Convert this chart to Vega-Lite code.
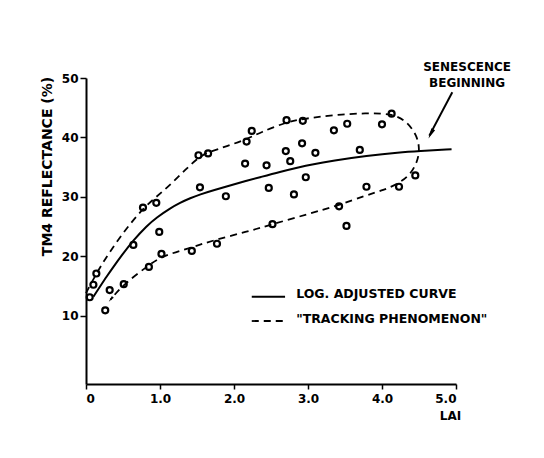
{
  "$schema": "https://vega.github.io/schema/vega-lite/v6.json",
  "width": 370,
  "height": 306,
  "autosize": {"type": "none"},
  "padding": {"left": 86, "top": 78, "right": 88, "bottom": 74},
  "background": "white",
  "config": {
    "view": {"stroke": null},
    "font": "DejaVu Sans",
    "axis": {
      "grid": false,
      "domainColor": "black",
      "domainWidth": 2,
      "tickColor": "black",
      "tickWidth": 1.5,
      "tickSize": 6,
      "labelColor": "black",
      "labelFont": "DejaVu Sans",
      "labelFontWeight": "bold",
      "labelFontSize": 12,
      "titleColor": "black",
      "titleFont": "DejaVu Sans",
      "titleFontWeight": "bold",
      "titleFontSize": 12
    }
  },
  "datasets": {
    "points": [
      {"x": 0.05, "y": 13.1}, {"x": 0.10, "y": 15.2}, {"x": 0.14, "y": 17.1}, {"x": 0.26, "y": 10.9},
      {"x": 0.32, "y": 14.3}, {"x": 0.51, "y": 15.3}, {"x": 0.64, "y": 21.9}, {"x": 0.77, "y": 28.2},
      {"x": 0.85, "y": 18.2}, {"x": 0.95, "y": 29.0}, {"x": 0.99, "y": 24.1}, {"x": 1.02, "y": 20.4},
      {"x": 1.43, "y": 20.9}, {"x": 1.52, "y": 37.0}, {"x": 1.54, "y": 31.6}, {"x": 1.65, "y": 37.3},
      {"x": 1.77, "y": 22.1}, {"x": 1.89, "y": 30.1}, {"x": 2.15, "y": 35.6}, {"x": 2.17, "y": 39.3},
      {"x": 2.24, "y": 41.1}, {"x": 2.44, "y": 35.3}, {"x": 2.47, "y": 31.5}, {"x": 2.52, "y": 25.4},
      {"x": 2.70, "y": 37.7}, {"x": 2.71, "y": 42.9}, {"x": 2.76, "y": 36.0}, {"x": 2.81, "y": 30.4},
      {"x": 2.92, "y": 39.0}, {"x": 2.93, "y": 42.8}, {"x": 2.97, "y": 33.3}, {"x": 3.10, "y": 37.4},
      {"x": 3.35, "y": 41.2}, {"x": 3.42, "y": 28.4}, {"x": 3.52, "y": 25.1}, {"x": 3.53, "y": 42.3},
      {"x": 3.70, "y": 37.9}, {"x": 3.79, "y": 31.7}, {"x": 4.00, "y": 42.2}, {"x": 4.13, "y": 44.0},
      {"x": 4.23, "y": 31.7}, {"x": 4.45, "y": 33.6}
    ],
    "fit": [
      {"x": 0.10, "y": 13.2}, {"x": 0.19, "y": 14.9}, {"x": 0.28, "y": 16.6}, {"x": 0.37, "y": 18.2},
      {"x": 0.48, "y": 20.1}, {"x": 0.64, "y": 22.7}, {"x": 0.82, "y": 25.1}, {"x": 0.95, "y": 26.5},
      {"x": 1.14, "y": 28.1}, {"x": 1.27, "y": 29.0}, {"x": 1.41, "y": 29.8}, {"x": 1.54, "y": 30.4},
      {"x": 1.72, "y": 31.1}, {"x": 2.00, "y": 32.1}, {"x": 2.17, "y": 32.7}, {"x": 2.35, "y": 33.3},
      {"x": 2.62, "y": 34.2}, {"x": 2.89, "y": 35.0}, {"x": 3.03, "y": 35.4}, {"x": 3.34, "y": 36.1},
      {"x": 3.79, "y": 36.9}, {"x": 4.24, "y": 37.5}, {"x": 4.49, "y": 37.7}, {"x": 4.94, "y": 38.0}
    ],
    "tracking": [
      {"i": 1, "x": 0.00, "y": 13.8}, {"i": 2, "x": 0.19, "y": 18.3}, {"i": 3, "x": 0.46, "y": 23.3},
      {"i": 4, "x": 0.77, "y": 28.2}, {"i": 5, "x": 1.09, "y": 31.4}, {"i": 6, "x": 1.36, "y": 34.8},
      {"i": 7, "x": 1.54, "y": 36.8}, {"i": 8, "x": 1.65, "y": 37.5}, {"i": 9, "x": 1.90, "y": 38.5},
      {"i": 10, "x": 2.17, "y": 39.7}, {"i": 11, "x": 2.35, "y": 40.8}, {"i": 12, "x": 2.71, "y": 42.6},
      {"i": 13, "x": 2.93, "y": 43.1}, {"i": 14, "x": 3.34, "y": 43.8}, {"i": 15, "x": 3.79, "y": 44.1},
      {"i": 16, "x": 4.13, "y": 44.0}, {"i": 17, "x": 4.33, "y": 42.8}, {"i": 18, "x": 4.47, "y": 40.4},
      {"i": 19, "x": 4.51, "y": 38.1}, {"i": 20, "x": 4.48, "y": 35.9}, {"i": 21, "x": 4.38, "y": 33.7},
      {"i": 22, "x": 4.23, "y": 32.3}, {"i": 23, "x": 4.02, "y": 31.1}, {"i": 24, "x": 3.79, "y": 30.3},
      {"i": 25, "x": 3.42, "y": 28.6}, {"i": 26, "x": 3.03, "y": 27.2}, {"i": 27, "x": 2.52, "y": 25.4},
      {"i": 28, "x": 2.17, "y": 24.1}, {"i": 29, "x": 1.72, "y": 22.7}, {"i": 30, "x": 1.41, "y": 21.4},
      {"i": 31, "x": 1.02, "y": 20.0}, {"i": 32, "x": 0.85, "y": 18.5}, {"i": 33, "x": 0.51, "y": 15.3},
      {"i": 34, "x": 0.33, "y": 12.7}
    ],
    "legendSolid": [{"x": 2.24, "y": 13.2}, {"x": 2.69, "y": 13.2}],
    "legendDashed": [{"x": 2.24, "y": 9.1}, {"x": 2.69, "y": 9.1}],
    "legendText": [
      {"x": 2.84, "y": 13.6, "label": "LOG. ADJUSTED CURVE"},
      {"x": 2.84, "y": 9.4, "label": "\"TRACKING PHENOMENON\""}
    ],
    "note": [
      {"x": 5.15, "y": 51.85, "label": "SENESCENCE"},
      {"x": 5.15, "y": 49.16, "label": "BEGINNING"}
    ],
    "arrowLine": [{"x": 4.95, "y": 47.6, "x2": 4.64, "y2": 40.3}],
    "arrowHeads": [
      {"x": 4.66, "y": 40.6, "a": 207, "s": 110},
      {"x": 0.335, "y": 12.75, "a": 220, "s": 40}
    ]
  },
  "encoding": {
    "x": {
      "field": "x", "type": "quantitative",
      "scale": {"domain": [0, 5], "nice": false, "zero": false},
      "axis": {
        "values": [0, 1, 2, 3, 4, 5],
        "labelExpr": "datum.value === 0 ? '0' : format(datum.value, '.1f')",
        "labelPadding": 4,
        "tickSize": 5,
        "title": "LAI",
        "titleX": 364,
        "titleY": 31,
        "titleAlign": "center",
        "titleBaseline": "middle",
        "titleFontSize": 12
      }
    },
    "y": {
      "field": "y", "type": "quantitative",
      "scale": {"domain": [-1.5, 50], "nice": false, "zero": false},
      "axis": {
        "values": [10, 20, 30, 40, 50],
        "format": "d",
        "labelPadding": 2,
        "tickSize": 6,
        "title": "TM4 REFLECTANCE (%)",
        "titleX": -39,
        "titleY": 88,
        "titleAngle": -90,
        "titleAlign": "center",
        "titleBaseline": "middle",
        "titleFontSize": 14
      }
    }
  },
  "layer": [
    {
      "data": {"name": "tracking"},
      "mark": {"type": "line", "color": "black", "strokeWidth": 1.8, "strokeDash": [7, 5], "interpolate": "basis"},
      "encoding": {"order": {"field": "i", "type": "quantitative"}}
    },
    {
      "data": {"name": "fit"},
      "mark": {"type": "line", "color": "black", "strokeWidth": 2, "interpolate": "basis"},
      "encoding": {}
    },
    {
      "data": {"name": "points"},
      "mark": {"type": "point", "shape": "circle", "filled": false, "color": "black", "size": 36, "strokeWidth": 2.2, "opacity": 1}
    },
    {
      "data": {"name": "legendSolid"},
      "mark": {"type": "line", "color": "black", "strokeWidth": 2},
      "encoding": {}
    },
    {
      "data": {"name": "legendDashed"},
      "mark": {"type": "line", "color": "black", "strokeWidth": 1.8, "strokeDash": [7, 5]},
      "encoding": {}
    },
    {
      "data": {"name": "legendText"},
      "mark": {"type": "text", "align": "left", "baseline": "middle", "fontWeight": "bold", "fontSize": 12.5, "color": "black"},
      "encoding": {"text": {"field": "label"}}
    },
    {
      "data": {"name": "note"},
      "mark": {"type": "text", "align": "center", "baseline": "middle", "fontWeight": "bold", "fontSize": 12, "color": "black"},
      "encoding": {"text": {"field": "label"}}
    },
    {
      "data": {"name": "arrowLine"},
      "mark": {"type": "rule", "color": "black", "strokeWidth": 2},
      "encoding": {"x2": {"field": "x2"}, "y2": {"field": "y2"}}
    },
    {
      "data": {"name": "arrowHeads"},
      "mark": {"type": "point", "shape": "M0,-1L0.4,1L-0.4,1Z", "filled": true, "color": "black", "opacity": 1},
      "encoding": {
        "angle": {"field": "a", "type": "quantitative", "scale": null},
        "size": {"field": "s", "type": "quantitative", "scale": null}
      }
    }
  ]
}
